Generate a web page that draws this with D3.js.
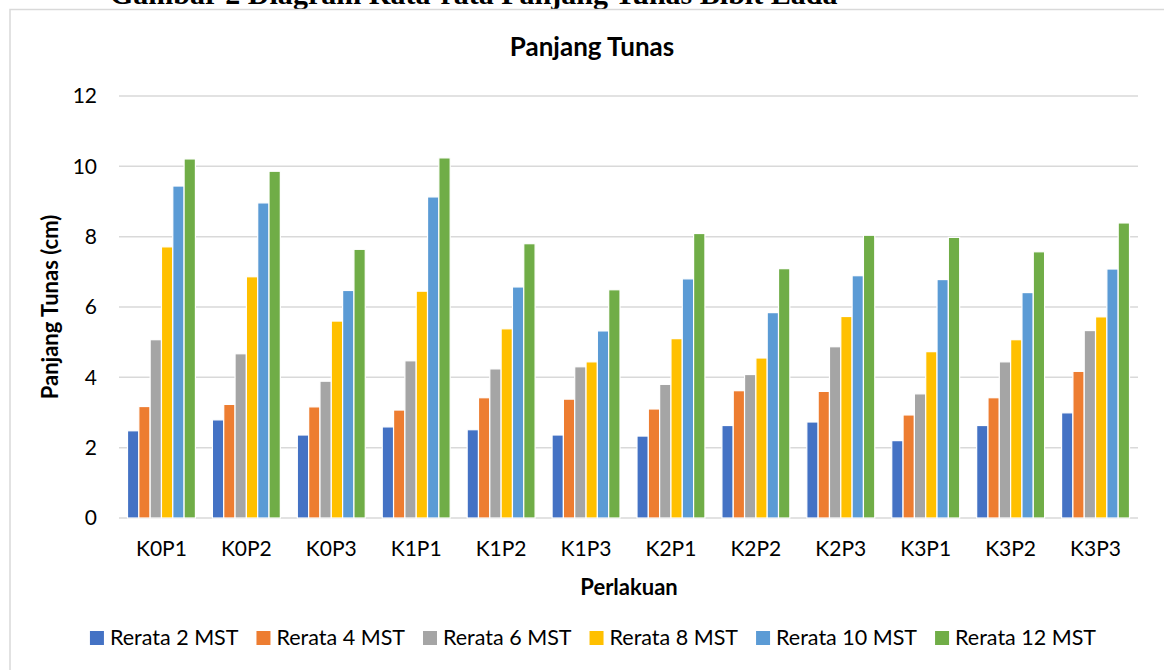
<!DOCTYPE html>
<html>
<head>
<meta charset="utf-8">
<script src="https://cdn.jsdelivr.net/npm/d3@7"></script>
<style>
  html, body { margin: 0; padding: 0; background: #fff; }
  svg { display: block; font-family: Lato, "Open Sans", sans-serif; }
</style>
</head>
<body>
<div id="chart"></div>
<script>
const width = 1164;
const height = 670;

const categories = ["K0P1", "K0P2", "K0P3", "K1P1", "K1P2", "K1P3", "K2P1", "K2P2", "K2P3", "K3P1", "K3P2", "K3P3"];
const seriesNames = ["Rerata 2 MST", "Rerata 4 MST", "Rerata 6 MST", "Rerata 8 MST", "Rerata 10 MST", "Rerata 12 MST"];
const colors = ["#4472C4", "#ED7D31", "#A5A5A5", "#FFC000", "#5B9BD5", "#70AD47"];

const rerata2 = [2.48, 2.79, 2.36, 2.59, 2.51, 2.36, 2.33, 2.63, 2.73, 2.20, 2.63, 2.99];
const rerata4 = [3.17, 3.23, 3.16, 3.07, 3.42, 3.38, 3.10, 3.62, 3.60, 2.93, 3.42, 4.17];
const rerata6 = [5.07, 4.67, 3.89, 4.47, 4.24, 4.30, 3.80, 4.08, 4.87, 3.53, 4.44, 5.33];
const rerata8 = [7.71, 6.86, 5.60, 6.45, 5.38, 4.44, 5.10, 4.55, 5.73, 4.73, 5.07, 5.72];
const rerata10 = [9.44, 8.96, 6.47, 9.13, 6.57, 5.32, 6.80, 5.84, 6.89, 6.78, 6.41, 7.08];
const rerata12 = [10.21, 9.86, 7.64, 10.24, 7.80, 6.49, 8.09, 7.09, 8.04, 7.98, 7.57, 8.39];
const seriesValues = [rerata2, rerata4, rerata6, rerata8, rerata10, rerata12];
const yTicks = [0, 2, 4, 6, 8, 10, 12];

const margin = {left: 119, right: 26, top: 96, bottom: 152};

const svg = d3.select("#chart").append("svg")
  .attr("width", width).attr("height", height);

// caption cut off at the top of the picture
const caption = svg.append("text")
  .attr("x", 110).attr("y", 4)
  .style("font-family", "'Liberation Serif', 'Times New Roman', serif")
  .style("font-weight", "bold").style("font-size", "26px")
  .text("Gambar 2 Diagram Rata-rata Panjang Tunas Bibit Lada");
const capLen = caption.node().getComputedTextLength();
caption.style("font-size", (26 * 728 / capLen) + "px");

// chart frame
svg.append("rect")
  .attr("x", 10).attr("y", 9.5)
  .attr("width", width + 10).attr("height", height)
  .attr("fill", "none").attr("stroke", "#D9D9D9").attr("stroke-width", 1.5);

const x0 = d3.scaleBand()
  .domain(categories)
  .range([margin.left, width - margin.right])
  .paddingInner(0.2).paddingOuter(0.1);

const x1 = d3.scaleBand()
  .domain(d3.range(seriesNames.length))
  .range([0, x0.bandwidth()]);

const y = d3.scaleLinear()
  .domain([0, 12])
  .range([height - margin.bottom, margin.top]);

// gridlines
svg.append("g")
  .selectAll("line")
  .data(yTicks)
  .join("line")
  .attr("x1", margin.left).attr("x2", width - margin.right)
  .attr("y1", d => y(d)).attr("y2", d => y(d))
  .attr("stroke", "#D9D9D9").attr("stroke-width", 1.5);

// y tick labels
svg.append("g")
  .selectAll("text")
  .data(yTicks)
  .join("text")
  .attr("x", 97).attr("y", d => y(d))
  .attr("dy", "0.35em")
  .attr("text-anchor", "end")
  .style("font-size", "21px").attr("fill", "#000")
  .text(d => d);

// bars
const groups = svg.append("g")
  .selectAll("g")
  .data(categories)
  .join("g")
  .attr("transform", d => `translate(${x0(d)},0)`);

groups.selectAll("rect")
  .data((d, i) => seriesValues.map((vals, s) => ({s, v: vals[i]})))
  .join("rect")
  .attr("x", d => x1(d.s))
  .attr("width", x1.bandwidth())
  .attr("y", d => y(d.v))
  .attr("height", d => y(0) - y(d.v))
  .attr("fill", d => colors[d.s])
  .attr("stroke", "#fff").attr("stroke-width", 1.2);

// x tick labels
svg.append("g")
  .selectAll("text")
  .data(categories)
  .join("text")
  .attr("x", d => x0(d) + x0.bandwidth() / 2)
  .attr("y", 556)
  .attr("text-anchor", "middle")
  .style("font-size", "21px")
  .text(d => d);

// titles
svg.append("text")
  .attr("x", 592).attr("y", 56)
  .attr("text-anchor", "middle")
  .style("font-size", "26px").style("font-weight", "bold")
  .text("Panjang Tunas");

svg.append("text")
  .attr("x", 629).attr("y", 595)
  .attr("text-anchor", "middle")
  .style("font-size", "22px").style("font-weight", "bold")
  .text("Perlakuan");

svg.append("text")
  .attr("transform", `translate(58,${y(6)}) rotate(-90)`)
  .attr("text-anchor", "middle")
  .style("font-size", "22px").style("font-weight", "bold")
  .text("Panjang Tunas (cm)");

// legend
const legend = svg.append("g");
const items = legend.selectAll("g")
  .data(seriesNames)
  .join("g");
items.append("rect")
  .attr("width", 14).attr("height", 14)
  .attr("y", -14)
  .attr("fill", (d, i) => colors[i]);
items.append("text")
  .attr("x", 20).attr("y", 0)
  .style("font-size", "21.5px")
  .text(d => d);

let offset = 0;
const offsets = [];
items.each(function () {
  offsets.push(offset);
  const w = d3.select(this).select("text").node().getComputedTextLength();
  offset += 20 + w + 18;
});
const total = offset - 18;
const legendX = 593 - total / 2;
items.attr("transform", (d, i) => `translate(${legendX + offsets[i]},645)`);
</script>
</body>
</html>
